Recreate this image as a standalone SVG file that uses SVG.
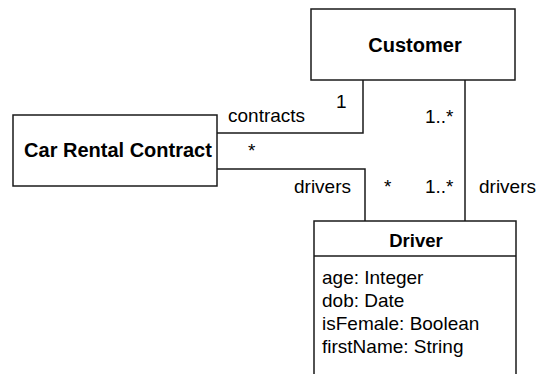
<svg xmlns="http://www.w3.org/2000/svg" width="541" height="374" viewBox="0 0 541 374">
<style>
.box{fill:#fff;stroke:#1a1a1a;stroke-width:1.5}
.ln{fill:none;stroke:#1a1a1a;stroke-width:1.5}
.b{font-family:"Liberation Sans",Arial,sans-serif;font-weight:bold;font-size:20px;fill:#000;text-anchor:middle}
.t{font-family:"Liberation Sans",Arial,sans-serif;font-size:19px;fill:#000}
</style>
<rect width="541" height="374" fill="#fff"/>
<g id="connectors">
<polyline class="ln" points="217,133 363,133 363,80"/>
<polyline class="ln" points="217,169 365,169 365,221"/>
<line class="ln" x1="465" y1="80" x2="465" y2="221"/>
<text class="t" x="228" y="122">contracts</text>
<text class="t" x="336" y="108">1</text>
<text class="t" x="248" y="157">*</text>
<text class="t" x="425" y="123">1..*</text>
<text class="t" x="294" y="193">drivers</text>
<text class="t" x="384" y="193">*</text>
<text class="t" x="425" y="193">1..*</text>
<text class="t" x="479" y="193">drivers</text>
</g>
<g id="customer">
<rect class="box" x="311" y="9" width="204" height="71"/>
<text class="b" x="415" y="52">Customer</text>
</g>
<g id="car-rental-contract">
<rect class="box" x="13" y="115" width="204" height="71"/>
<text class="b" x="118" y="157">Car Rental Contract</text>
</g>
<g id="driver">
<rect class="box" x="314" y="221" width="202" height="170"/>
<line class="ln" x1="314" y1="256" x2="516" y2="256"/>
<text class="b" x="416" y="247" style="font-size:18.5px">Driver</text>
<text class="t" x="322" y="284">age: Integer</text>
<text class="t" x="322" y="307">dob: Date</text>
<text class="t" x="322" y="330">isFemale: Boolean</text>
<text class="t" x="322" y="353">firstName: String</text>
</g>
</svg>
